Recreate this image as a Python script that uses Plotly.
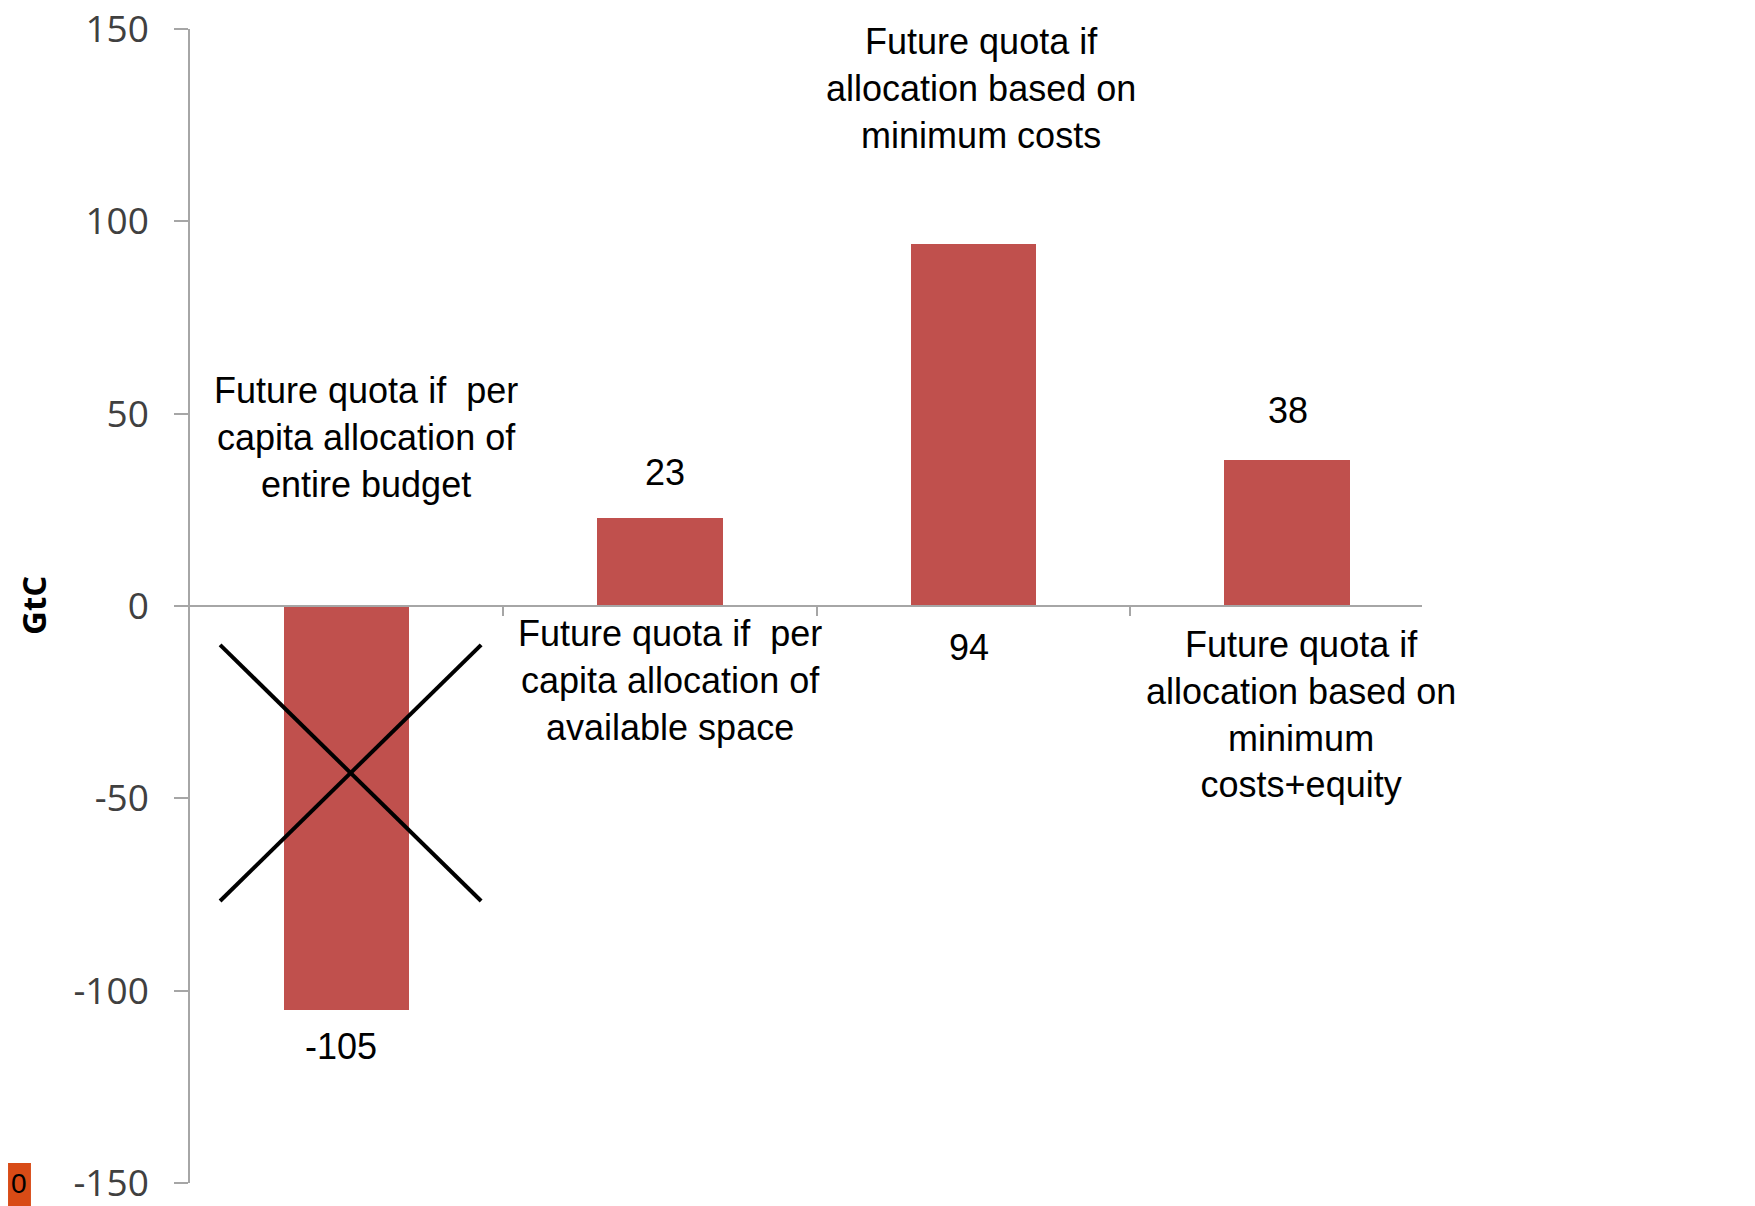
import plotly.graph_objects as go

categories = [
    "Per capita allocation of entire budget",
    "Per capita allocation of available space",
    "Allocation based on minimum costs",
    "Allocation based on minimum costs+equity",
]
values = [-105, 23, 94, 38]
value_labels = ["-105", "23", "94", "38"]
y_ticks = [-150, -100, -50, 0, 50, 100, 150]
y_tick_text = ["-150", "-100", "-50", "0", "50", "100", "150"]

desc_texts = [
    "Future quota if\u00a0 per<br>capita allocation of<br>entire budget",
    "Future quota if\u00a0 per<br>capita allocation of<br>available space",
    "Future quota if<br>allocation based on<br>minimum costs",
    "Future quota if<br>allocation based on<br>minimum<br>costs+equity",
]
desc_pos = [(0.06, 43.7), (1.03, -19.4), (2.025, 134.6), (3.046, -28.1)]
value_pos = [(-0.018, -114.4), (1.014, 34.7), (1.986, -10.7), (3.004, 50.7)]
cross_x = [-0.404, 0.429]
cross_y = [-10.1, -76.7]

xpos = list(range(len(categories)))

fig = go.Figure()
fig.add_trace(go.Bar(
    x=xpos, y=values, width=0.4,
    marker=dict(color="#C0504D", line=dict(width=0)),
    hovertext=categories, showlegend=False,
))

ann = []
for t, (x, y) in zip(desc_texts, desc_pos):
    ann.append(dict(x=x, y=y, xref="x", yref="y", text=t, showarrow=False,
                    font=dict(family="Liberation Sans, Arial", size=36, color="#000000"),
                    align="center", xanchor="center", yanchor="middle"))
for t, (x, y) in zip(value_labels, value_pos):
    ann.append(dict(x=x, y=y, xref="x", yref="y", text=t, showarrow=False,
                    font=dict(family="Liberation Sans, Arial", size=36, color="#000000"),
                    xanchor="center", yanchor="middle"))
ann.append(dict(x=0, y=0, xref="paper", yref="y", xshift=-157, text="<b>GtC</b>",
                textangle=-90, showarrow=False,
                font=dict(family="Open Sans", size=33, color="#000000"),
                xanchor="center", yanchor="middle"))
ann.append(dict(x=-0.1384, y=0.0, xref="paper", yref="paper", text="0",
                showarrow=False,
                font=dict(family="Liberation Sans, Arial", size=28, color="#000000"),
                xanchor="center", yanchor="middle"))

shapes = [
    dict(type="rect", xref="paper", yref="paper", x0=-0.1477, x1=-0.1291,
         y0=-0.0199, y1=0.01727, fillcolor="#D84B16", line=dict(width=0), layer="below"),
    dict(type="line", xref="x", yref="y", x0=cross_x[0], y0=cross_y[0],
         x1=cross_x[1], y1=cross_y[1], line=dict(color="#000000", width=4)),
    dict(type="line", xref="x", yref="y", x0=cross_x[1], y0=cross_y[0],
         x1=cross_x[0], y1=cross_y[1], line=dict(color="#000000", width=4)),
]

fig.update_layout(
    width=1755, height=1206,
    margin=dict(l=182, r=341, t=21, b=31, autoexpand=False),
    paper_bgcolor="white", plot_bgcolor="white",
    annotations=ann, shapes=shapes,
    bargap=0,
    xaxis=dict(range=[-0.5, 3.431], showgrid=False, zeroline=False,
               anchor="free", position=0.5, automargin=False,
               showline=True, linecolor="#A6A6A6", linewidth=1.5,
               tickvals=[0.5, 1.5, 2.5], ticks="outside", ticklen=9,
               tickcolor="#A6A6A6", tickwidth=1.5, showticklabels=False),
    yaxis=dict(range=[-150, 150], tickvals=y_ticks, ticktext=y_tick_text,
               showgrid=False, zeroline=False, automargin=False,
               showline=True, linecolor="#A6A6A6", linewidth=1.5,
               ticks="outside", ticklen=14, tickcolor="#A6A6A6", tickwidth=1.5,
               tickfont=dict(family="Open Sans", size=37, color="#404040"),
               ticklabelstandoff=18, ticklabeloverflow="allow"),
)

fig.write_html("out.html")
